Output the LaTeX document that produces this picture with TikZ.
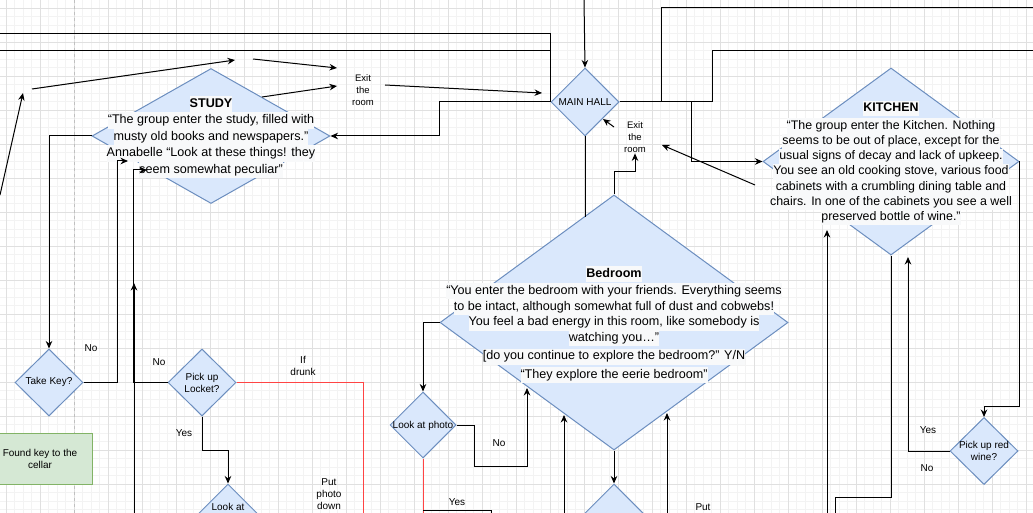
\documentclass[tikz,border=0pt]{standalone}
\usepackage{fontspec}
\setmainfont{Liberation Sans}
\usetikzlibrary{shapes.geometric,arrows.meta}
\definecolor{dfill}{HTML}{DAE8FC}
\definecolor{dline}{HTML}{6C8EBF}
\definecolor{gfill}{HTML}{D5E8D4}
\definecolor{gline}{HTML}{82B366}
\definecolor{hlbg}{HTML}{F8F9FA}
\definecolor{redl}{HTML}{FF4444}
\definecolor{minorg}{HTML}{F3F3F3}
\definecolor{majorg}{HTML}{E0E0E0}
\definecolor{pageg}{HTML}{C0C0C0}
\newcommand{\hlx}[1]{{\setlength{\fboxsep}{0pt}\colorbox{hlbg}{\strut #1}}}
\begin{document}
\begin{tikzpicture}[x=1pt,y=-1pt,
  diam/.style={diamond, draw=dline, fill=dfill, line width=1pt, inner sep=0pt},
  conn/.style={draw=black, line width=1pt},
  arr/.style={conn, -{Stealth[length=7.5pt,width=6.5pt]}},
  redc/.style={draw=redl, line width=1pt},
  lbl/.style={font=\fontsize{10}{12}\selectfont, align=center, inner sep=0pt},
  exitl/.style={font=\fontsize{9.5}{11.7}\selectfont, align=center, inner sep=1pt},
  bigt/.style={align=center, inner sep=0pt},
  gbox/.style={rectangle, draw=gline, fill=gfill, line width=1pt, align=center, font=\fontsize{10}{12}\selectfont}]
\useasboundingbox (0,0) rectangle (1033,513);
\fill[white] (0,0) rectangle (1033,513);
% grid
\begin{scope}
\clip (0,0) rectangle (1033,513);
\foreach \i in {0,...,122} \draw[minorg, line width=0.8pt] ({-2.2+8.5*\i},0) -- ++(0,513);
\foreach \j in {0,...,61} \draw[minorg, line width=0.8pt] (0,{-0.5+8.5*\j}) -- ++(1033,0);
\foreach \i in {0,...,30} \draw[majorg, line width=0.8pt] ({6.3+34*\i},0) -- ++(0,513);
\foreach \j in {0,...,15} \draw[majorg, line width=0.8pt] (0,{8+34*\j}) -- ++(1033,0);
\end{scope}
\coordinate (pg1) at (74,0);
\coordinate (pg2) at (74,513);
\draw[pageg, dashed, line width=0.8pt] (pg1) -- (pg2);

\begin{scope}
\clip (0,0) rectangle (1033,513);
% diamonds
\node[diam, minimum width=238pt, minimum height=135pt] (study) at (211,136) {};
\node[diam, minimum width=68pt, minimum height=68pt] (hall) at (585,102) {};
\node[diam, minimum width=256pt, minimum height=187pt] (kitchen) at (891,161.5) {};
\node[diam, minimum width=348pt, minimum height=255pt] (bedroom) at (614,322.5) {};
\node[diam, minimum width=66pt, minimum height=66pt] (photo) at (423,425) {};
\node[diam, minimum width=68pt, minimum height=67pt] (takekey) at (49,382.5) {};
\node[diam, minimum width=68pt, minimum height=67pt] (locket) at (202,382.5) {};
\node[diam, minimum width=68pt, minimum height=67pt] (redwine) at (984,451) {};
\node[diam, minimum width=68pt, minimum height=68pt] (lookat) at (228,518) {};
\node[diam, minimum width=68pt, minimum height=68pt] (bmid) at (614,518) {};
\node[gbox, minimum width=104pt, minimum height=51pt] (found) at (40,458.5) {Found key to the\\cellar};

% texts inside diamonds
\node[bigt, font=\fontsize{12.6}{16.5}\selectfont] (studyT) at (211,137) {\hlx{\textbf{STUDY}}\\
\hlx{“The group enter the study, filled with}\\
\hlx{musty old books and newspapers.”}\\
\hlx{Annabelle “Look at these things! they}\\
\hlx{seem somewhat peculiar”}};
\node[bigt, font=\fontsize{12.4}{15.3}\selectfont] (kitchenT) at (891,163) {\hlx{\textbf{KITCHEN}}\\[2.5pt]
\hlx{“The group enter the Kitchen. Nothing}\\
\hlx{seems to be out of place, except for the}\\
\hlx{usual signs of decay and lack of upkeep.}\\
\hlx{You see an old cooking stove, various food}\\
\hlx{cabinets with a crumbling dining table and}\\
\hlx{chairs. In one of the cabinets you see a well}\\
\hlx{preserved bottle of wine.”}};
\node[bigt, font=\fontsize{12.6}{15.8}\selectfont] (bedroomT) at (614,324.6) {\hlx{\textbf{Bedroom}}\\[1.2pt]
\hlx{“You enter the bedroom with your friends. Everything seems}\\
\hlx{to be intact, although somewhat full of dust and cobwebs!}\\
\hlx{You feel a bad energy in this room, like somebody is}\\
\hlx{watching you…”}\\[2.5pt]
\hlx{[do you continue to explore the bedroom?” Y/N}\\[2.5pt]
\hlx{“They explore the eerie bedroom”}};
\node[lbl] (hallT) at (585,102) {MAIN HALL};
\node[lbl] (takekeyT) at (49,382) {Take Key?};
\node[lbl] (locketT) at (202,383) {Pick up\\Locket?};
\node[lbl] (redwineT) at (984,451) {Pick up red\\wine?};
\node[lbl] (photoT) at (423,426) {Look at photo};
\node[lbl] (lookatT) at (228,507) {Look at};

% free labels
\node[exitl] (exit1) at (363,90) {Exit\\the\\room};
\node[exitl] (exit2) at (635,137) {Exit\\the\\room};
\node[lbl] (noA) at (91,348) {No};
\node[lbl] (noB) at (159,362) {No};
\node[lbl] (drunk) at (303,366) {If\\drunk};
\node[lbl] (yesA) at (184,433) {Yes};
\node[lbl] (putA) at (329,494) {Put\\photo\\down};
\node[lbl] (noC) at (499,443) {No};
\node[lbl] (yesB) at (457,502) {Yes};
\node[lbl] (putB) at (703,507) {Put};
\node[lbl] (yesC) at (928,430) {Yes};
\node[lbl] (noD) at (927,468) {No};

% free ends
\coordinate (lt1) at (0,34);
\coordinate (lt2) at (0,51);
\coordinate (ll1) at (0,195);
\coordinate (ll2) at (23,93);
\coordinate (ll3) at (32,89);
\coordinate (ll4) at (235,60);
\coordinate (ll5) at (253,59);
\coordinate (ll6) at (337,68);
\coordinate (ll7) at (262,97);
\coordinate (ll8) at (337,86);
\coordinate (ex1) at (385,85);
\coordinate (ex2) at (542,93);
\coordinate (tp) at (584,0);
\coordinate (hb1) at (585,217);
\coordinate (ex3) at (614,127);
\coordinate (ex4) at (603,119);
\coordinate (kx1) at (755,185);
\coordinate (kx2) at (662,145);
\coordinate (rt1) at (1033,8);
\coordinate (rt2) at (1033,51);
\coordinate (kw1) at (908,257);
\coordinate (kb1) at (835,513);
\coordinate (kb2) at (827,513);
\coordinate (kb3) at (827,230);
\coordinate (bp1) at (527,388);
\coordinate (pb1) at (423,513);
\coordinate (pb2) at (423,510);
\coordinate (pb3) at (491,513);
\coordinate (bu1) at (564,513);
\coordinate (bu2) at (564,415);
\coordinate (bu3) at (667,513);
\coordinate (bu4) at (667,413);
\coordinate (sa1) at (128,161);
\coordinate (sa2) at (147,170);
\coordinate (lb1) at (134,513);
\coordinate (lb2) at (134,283);
\coordinate (lr1) at (363,513);

% connectors
\draw[conn] (lt1) -| (hall.west);
\draw[conn] (lt2) -| (hall.west);
\draw[arr] (hall.west) -- ++(-111,0) |- (study.east);
\draw[arr] (ll1) -- (ll2);
\draw[arr] (ll3) -- (ll4);
\draw[arr] (ll5) -- (ll6);
\draw[arr] (ll7) -- (ll8);
\draw[arr] (ex1) -- (ex2);
\draw[arr] (tp) -- (hall.north);
\draw[conn] (hall.south) -- (hb1);
\draw[arr] (bedroom.north) -- ++(0,-23) -| (exit2.south);
\draw[arr] (ex3) -- (ex4);
\draw[arr] (kx1) -- (kx2);
\draw[conn] (hall.east) -- ++(42,0) |- (rt1);
\draw[conn] (hall.east) -- ++(93,0) |- (rt2);
\draw[arr] (hall.east) -- ++(72,0) |- (kitchen.west);
\draw[arr] (kitchen.east) -- ++(0,244.5) -| (redwine.north);
\draw[arr] (redwine.west) -| (kw1);
\draw[conn] (kitchen.south) -- ++(0,241.5) -| (kb1);
\draw[arr] (kb2) -- (kb3);
\draw[arr] (bedroom.west) -| (photo.north);
\draw[arr] (photo.east) -- ++(18,0) -- ++(0,41) -| (bp1);
\draw[redc] (photo.south) -- (pb1);
\draw[conn] (pb2) -| (pb3);
\draw[arr] (bedroom.south) -- (bmid.north);
\draw[arr] (bu1) -- (bu2);
\draw[arr] (bu3) -- (bu4);
\draw[arr] (study.west) -| (takekey.north);
\draw[arr] (takekey.east) -- ++(34,0) |- (sa1);
\draw[arr] (locket.west) -- ++(-34,0) |- (sa2);
\draw[arr] (lb1) -- (lb2);
\draw[redc] (locket.east) -| (lr1);
\draw[arr] (locket.south) -- ++(0,34) -| (lookat.north);
\end{scope}
\end{tikzpicture}
\end{document}
